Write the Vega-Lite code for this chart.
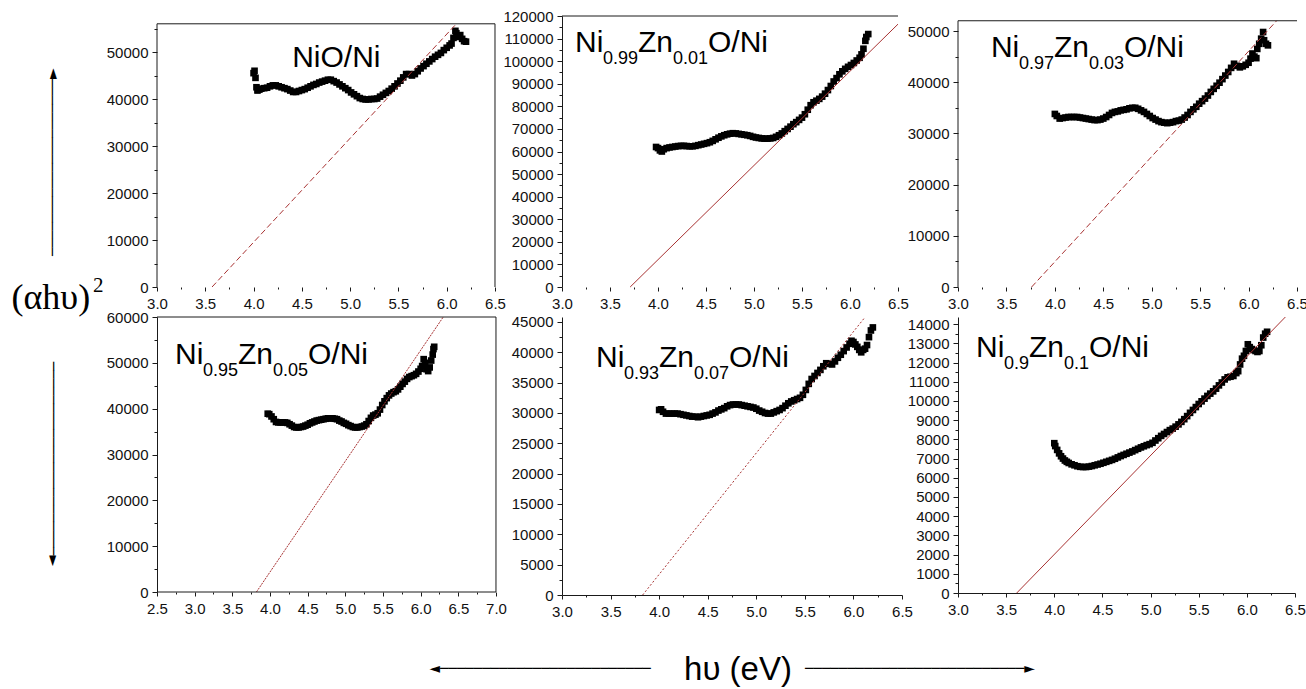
{
"$schema":"https://vega.github.io/schema/vega-lite/v6.json",
"padding":{"left":0,"top":9,"right":0,"bottom":0},
"background":"white",
"config":{
 "view":{"stroke":null,"fill":"white"},
 "axis":{"labelFont":"Liberation Sans","labelFontSize":15,"labelColor":"#111","domainColor":"#1a1a1a","tickColor":"#1a1a1a","grid":false,"labelFlush":false,"labelOverlap":false,"labelBound":false,"domainWidth":1,"tickWidth":1},
 "axisX":{"format":".1f","labelPadding":5},
 "axisY":{"format":"d","labelPadding":4},
 "text":{"font":"Liberation Sans","color":"black"}
},
"datasets":{
"p1":[{"x":4.00,"y":45500},{"x":4.01,"y":46000},{"x":4.02,"y":44500},{"x":4.03,"y":42500},{"x":4.04,"y":41800},{"x":4.06,"y":42000},{"x":4.08,"y":42200},{"x":4.11,"y":42300},{"x":4.14,"y":42400},{"x":4.17,"y":42700},{"x":4.20,"y":42900},{"x":4.23,"y":42900},{"x":4.26,"y":42700},{"x":4.29,"y":42500},{"x":4.32,"y":42300},{"x":4.35,"y":42100},{"x":4.38,"y":41800},{"x":4.41,"y":41500},{"x":4.44,"y":41500},{"x":4.47,"y":41700},{"x":4.50,"y":41900},{"x":4.53,"y":42100},{"x":4.56,"y":42400},{"x":4.59,"y":42700},{"x":4.62,"y":43000},{"x":4.65,"y":43200},{"x":4.68,"y":43500},{"x":4.71,"y":43700},{"x":4.74,"y":43900},{"x":4.77,"y":44100},{"x":4.80,"y":44100},{"x":4.83,"y":43800},{"x":4.86,"y":43500},{"x":4.89,"y":43100},{"x":4.92,"y":42700},{"x":4.95,"y":42300},{"x":4.98,"y":41900},{"x":5.01,"y":41400},{"x":5.04,"y":41000},{"x":5.07,"y":40600},{"x":5.10,"y":40200},{"x":5.13,"y":40000},{"x":5.16,"y":39900},{"x":5.19,"y":39900},{"x":5.22,"y":40000},{"x":5.25,"y":40000},{"x":5.28,"y":40100},{"x":5.31,"y":40500},{"x":5.34,"y":40900},{"x":5.37,"y":41300},{"x":5.40,"y":41700},{"x":5.43,"y":42200},{"x":5.46,"y":42700},{"x":5.49,"y":43300},{"x":5.52,"y":43900},{"x":5.55,"y":44600},{"x":5.58,"y":45300},{"x":5.61,"y":45300},{"x":5.64,"y":45000},{"x":5.67,"y":45300},{"x":5.70,"y":45900},{"x":5.73,"y":46500},{"x":5.76,"y":47000},{"x":5.79,"y":47500},{"x":5.82,"y":48000},{"x":5.85,"y":48500},{"x":5.88,"y":49000},{"x":5.91,"y":49400},{"x":5.94,"y":49800},{"x":5.97,"y":50400},{"x":6.00,"y":50900},{"x":6.03,"y":51400},{"x":6.05,"y":51800},{"x":6.07,"y":53000},{"x":6.09,"y":54500},{"x":6.10,"y":54000},{"x":6.12,"y":53200},{"x":6.14,"y":53600},{"x":6.16,"y":52800},{"x":6.18,"y":52300},{"x":6.20,"y":52200}],
"p2":[{"x":3.98,"y":62000},{"x":4.00,"y":61500},{"x":4.02,"y":60500},{"x":4.04,"y":60000},{"x":4.06,"y":61000},{"x":4.09,"y":61500},{"x":4.12,"y":61800},{"x":4.15,"y":62000},{"x":4.18,"y":62200},{"x":4.21,"y":62400},{"x":4.24,"y":62500},{"x":4.27,"y":62500},{"x":4.30,"y":62400},{"x":4.33,"y":62300},{"x":4.36,"y":62300},{"x":4.39,"y":62500},{"x":4.42,"y":62800},{"x":4.45,"y":63100},{"x":4.48,"y":63400},{"x":4.51,"y":63700},{"x":4.54,"y":64100},{"x":4.57,"y":64700},{"x":4.60,"y":65400},{"x":4.63,"y":66100},{"x":4.66,"y":66700},{"x":4.69,"y":67200},{"x":4.72,"y":67600},{"x":4.75,"y":67900},{"x":4.78,"y":68100},{"x":4.81,"y":68000},{"x":4.84,"y":67800},{"x":4.87,"y":67600},{"x":4.90,"y":67400},{"x":4.93,"y":67200},{"x":4.96,"y":66900},{"x":4.99,"y":66500},{"x":5.02,"y":66200},{"x":5.05,"y":66000},{"x":5.08,"y":65800},{"x":5.11,"y":65700},{"x":5.14,"y":65700},{"x":5.17,"y":65800},{"x":5.20,"y":66000},{"x":5.23,"y":66500},{"x":5.26,"y":67200},{"x":5.29,"y":68000},{"x":5.32,"y":69000},{"x":5.35,"y":70000},{"x":5.38,"y":71000},{"x":5.41,"y":72100},{"x":5.44,"y":73000},{"x":5.47,"y":74000},{"x":5.50,"y":75000},{"x":5.53,"y":76500},{"x":5.56,"y":78500},{"x":5.59,"y":80500},{"x":5.62,"y":81800},{"x":5.65,"y":82500},{"x":5.68,"y":83300},{"x":5.71,"y":84300},{"x":5.74,"y":85600},{"x":5.77,"y":87200},{"x":5.80,"y":89000},{"x":5.83,"y":91000},{"x":5.86,"y":92500},{"x":5.89,"y":94200},{"x":5.92,"y":95500},{"x":5.95,"y":96600},{"x":5.98,"y":97500},{"x":6.01,"y":98300},{"x":6.04,"y":99200},{"x":6.07,"y":100300},{"x":6.10,"y":101500},{"x":6.12,"y":103000},{"x":6.14,"y":105500},{"x":6.16,"y":109000},{"x":6.17,"y":110700},{"x":6.19,"y":112000}],
"p3":[{"x":4.00,"y":33800},{"x":4.02,"y":33400},{"x":4.05,"y":32900},{"x":4.08,"y":33000},{"x":4.11,"y":33100},{"x":4.14,"y":33200},{"x":4.17,"y":33200},{"x":4.20,"y":33200},{"x":4.23,"y":33200},{"x":4.26,"y":33100},{"x":4.29,"y":33000},{"x":4.32,"y":32900},{"x":4.35,"y":32800},{"x":4.38,"y":32700},{"x":4.41,"y":32600},{"x":4.44,"y":32600},{"x":4.47,"y":32700},{"x":4.50,"y":32900},{"x":4.53,"y":33200},{"x":4.56,"y":33600},{"x":4.59,"y":34000},{"x":4.62,"y":34200},{"x":4.65,"y":34300},{"x":4.68,"y":34500},{"x":4.71,"y":34600},{"x":4.74,"y":34700},{"x":4.77,"y":34900},{"x":4.80,"y":35000},{"x":4.83,"y":35000},{"x":4.86,"y":34800},{"x":4.89,"y":34500},{"x":4.92,"y":34200},{"x":4.95,"y":33800},{"x":4.98,"y":33400},{"x":5.01,"y":33000},{"x":5.04,"y":32700},{"x":5.07,"y":32400},{"x":5.10,"y":32200},{"x":5.13,"y":32100},{"x":5.16,"y":32000},{"x":5.19,"y":32100},{"x":5.22,"y":32200},{"x":5.25,"y":32400},{"x":5.28,"y":32500},{"x":5.31,"y":32700},{"x":5.34,"y":33100},{"x":5.37,"y":33600},{"x":5.40,"y":34200},{"x":5.43,"y":34700},{"x":5.46,"y":35200},{"x":5.49,"y":35800},{"x":5.52,"y":36300},{"x":5.55,"y":36800},{"x":5.58,"y":37400},{"x":5.61,"y":38100},{"x":5.64,"y":38700},{"x":5.67,"y":39300},{"x":5.70,"y":39900},{"x":5.73,"y":40600},{"x":5.76,"y":41300},{"x":5.79,"y":42000},{"x":5.82,"y":42800},{"x":5.85,"y":43600},{"x":5.88,"y":43200},{"x":5.91,"y":42900},{"x":5.94,"y":43100},{"x":5.97,"y":43400},{"x":6.00,"y":43800},{"x":6.02,"y":44600},{"x":6.04,"y":45600},{"x":6.06,"y":45000},{"x":6.08,"y":44700},{"x":6.09,"y":46500},{"x":6.11,"y":47500},{"x":6.13,"y":48500},{"x":6.15,"y":49800},{"x":6.16,"y":48200},{"x":6.18,"y":47500},{"x":6.20,"y":47200}],
"p4":[{"x":3.97,"y":38900},{"x":3.99,"y":38800},{"x":4.02,"y":38300},{"x":4.05,"y":37700},{"x":4.08,"y":37100},{"x":4.11,"y":37000},{"x":4.14,"y":37000},{"x":4.17,"y":37000},{"x":4.20,"y":37000},{"x":4.23,"y":36900},{"x":4.26,"y":36600},{"x":4.29,"y":36300},{"x":4.32,"y":36000},{"x":4.35,"y":35900},{"x":4.38,"y":35900},{"x":4.41,"y":36000},{"x":4.44,"y":36100},{"x":4.47,"y":36300},{"x":4.50,"y":36500},{"x":4.53,"y":36800},{"x":4.56,"y":37000},{"x":4.59,"y":37200},{"x":4.62,"y":37400},{"x":4.65,"y":37500},{"x":4.68,"y":37600},{"x":4.71,"y":37700},{"x":4.74,"y":37800},{"x":4.77,"y":37900},{"x":4.80,"y":37900},{"x":4.83,"y":37900},{"x":4.86,"y":37800},{"x":4.89,"y":37700},{"x":4.92,"y":37400},{"x":4.95,"y":37200},{"x":4.98,"y":36900},{"x":5.01,"y":36700},{"x":5.04,"y":36400},{"x":5.07,"y":36200},{"x":5.10,"y":36000},{"x":5.13,"y":35900},{"x":5.16,"y":35900},{"x":5.19,"y":36000},{"x":5.22,"y":36100},{"x":5.25,"y":36300},{"x":5.28,"y":36600},{"x":5.31,"y":37300},{"x":5.34,"y":38000},{"x":5.37,"y":38500},{"x":5.40,"y":38700},{"x":5.43,"y":39000},{"x":5.46,"y":39800},{"x":5.49,"y":40800},{"x":5.52,"y":41600},{"x":5.55,"y":42300},{"x":5.58,"y":42900},{"x":5.61,"y":43300},{"x":5.64,"y":43600},{"x":5.67,"y":43800},{"x":5.70,"y":44200},{"x":5.73,"y":44800},{"x":5.76,"y":45400},{"x":5.79,"y":45900},{"x":5.82,"y":46500},{"x":5.85,"y":46900},{"x":5.88,"y":47100},{"x":5.91,"y":47300},{"x":5.94,"y":47600},{"x":5.97,"y":48100},{"x":6.00,"y":48700},{"x":6.02,"y":49300},{"x":6.04,"y":50800},{"x":6.06,"y":50000},{"x":6.08,"y":48600},{"x":6.10,"y":48200},{"x":6.12,"y":49000},{"x":6.14,"y":50500},{"x":6.16,"y":51800},{"x":6.17,"y":53000},{"x":6.18,"y":53500}],
"p5":[{"x":4.00,"y":30500},{"x":4.02,"y":30600},{"x":4.04,"y":30200},{"x":4.07,"y":29900},{"x":4.10,"y":29900},{"x":4.13,"y":29900},{"x":4.16,"y":29900},{"x":4.19,"y":29900},{"x":4.22,"y":29800},{"x":4.25,"y":29700},{"x":4.28,"y":29600},{"x":4.31,"y":29500},{"x":4.34,"y":29400},{"x":4.37,"y":29400},{"x":4.40,"y":29300},{"x":4.43,"y":29400},{"x":4.46,"y":29500},{"x":4.49,"y":29600},{"x":4.52,"y":29700},{"x":4.55,"y":29900},{"x":4.58,"y":30100},{"x":4.61,"y":30400},{"x":4.64,"y":30600},{"x":4.67,"y":30800},{"x":4.70,"y":31100},{"x":4.73,"y":31300},{"x":4.76,"y":31400},{"x":4.79,"y":31400},{"x":4.82,"y":31400},{"x":4.85,"y":31300},{"x":4.88,"y":31200},{"x":4.91,"y":31100},{"x":4.94,"y":31000},{"x":4.97,"y":30900},{"x":5.00,"y":30700},{"x":5.03,"y":30400},{"x":5.06,"y":30200},{"x":5.09,"y":30000},{"x":5.12,"y":29900},{"x":5.15,"y":29900},{"x":5.18,"y":30100},{"x":5.21,"y":30300},{"x":5.24,"y":30500},{"x":5.27,"y":30800},{"x":5.30,"y":31200},{"x":5.33,"y":31600},{"x":5.36,"y":31900},{"x":5.39,"y":32100},{"x":5.42,"y":32300},{"x":5.45,"y":32500},{"x":5.48,"y":33000},{"x":5.51,"y":33800},{"x":5.54,"y":34800},{"x":5.57,"y":35600},{"x":5.60,"y":36100},{"x":5.63,"y":36600},{"x":5.66,"y":37100},{"x":5.69,"y":37700},{"x":5.72,"y":38200},{"x":5.75,"y":38100},{"x":5.78,"y":38000},{"x":5.81,"y":38500},{"x":5.84,"y":39100},{"x":5.87,"y":39600},{"x":5.90,"y":40200},{"x":5.93,"y":40800},{"x":5.96,"y":41400},{"x":5.98,"y":41900},{"x":6.00,"y":41700},{"x":6.02,"y":41300},{"x":6.04,"y":40900},{"x":6.06,"y":40400},{"x":6.08,"y":40000},{"x":6.10,"y":40400},{"x":6.12,"y":40600},{"x":6.14,"y":41200},{"x":6.16,"y":42500},{"x":6.18,"y":43600},{"x":6.20,"y":44100}],
"p6":[{"x":4.00,"y":7800},{"x":4.01,"y":7650},{"x":4.03,"y":7450},{"x":4.05,"y":7270},{"x":4.07,"y":7120},{"x":4.09,"y":7000},{"x":4.11,"y":6900},{"x":4.13,"y":6830},{"x":4.15,"y":6770},{"x":4.18,"y":6700},{"x":4.21,"y":6650},{"x":4.24,"y":6600},{"x":4.27,"y":6570},{"x":4.30,"y":6560},{"x":4.33,"y":6560},{"x":4.36,"y":6580},{"x":4.39,"y":6610},{"x":4.42,"y":6650},{"x":4.45,"y":6690},{"x":4.48,"y":6730},{"x":4.51,"y":6780},{"x":4.54,"y":6830},{"x":4.57,"y":6880},{"x":4.60,"y":6930},{"x":4.63,"y":6990},{"x":4.66,"y":7060},{"x":4.69,"y":7130},{"x":4.72,"y":7190},{"x":4.75,"y":7250},{"x":4.78,"y":7310},{"x":4.81,"y":7370},{"x":4.84,"y":7440},{"x":4.87,"y":7510},{"x":4.90,"y":7580},{"x":4.93,"y":7640},{"x":4.96,"y":7700},{"x":4.99,"y":7750},{"x":5.02,"y":7820},{"x":5.05,"y":7940},{"x":5.08,"y":8060},{"x":5.11,"y":8180},{"x":5.14,"y":8280},{"x":5.17,"y":8380},{"x":5.20,"y":8480},{"x":5.23,"y":8560},{"x":5.26,"y":8660},{"x":5.29,"y":8780},{"x":5.32,"y":8910},{"x":5.35,"y":9050},{"x":5.38,"y":9210},{"x":5.41,"y":9380},{"x":5.44,"y":9530},{"x":5.47,"y":9680},{"x":5.50,"y":9840},{"x":5.53,"y":9980},{"x":5.56,"y":10120},{"x":5.59,"y":10260},{"x":5.62,"y":10380},{"x":5.65,"y":10500},{"x":5.68,"y":10640},{"x":5.71,"y":10810},{"x":5.74,"y":10960},{"x":5.77,"y":11120},{"x":5.80,"y":11230},{"x":5.83,"y":11260},{"x":5.86,"y":11300},{"x":5.89,"y":11450},{"x":5.91,"y":11550},{"x":5.93,"y":11900},{"x":5.95,"y":12200},{"x":5.97,"y":12350},{"x":5.99,"y":12600},{"x":6.01,"y":12950},{"x":6.03,"y":12800},{"x":6.05,"y":12700},{"x":6.07,"y":12650},{"x":6.09,"y":12600},{"x":6.11,"y":12550},{"x":6.13,"y":12600},{"x":6.15,"y":12900},{"x":6.17,"y":13300},{"x":6.19,"y":13500},{"x":6.21,"y":13600}],
"l1":[{"x":3.57,"y":0},{"x":6.10,"y":56000}],
"l2":[{"x":3.71,"y":0},{"x":6.5,"y":116400}],
"l3":[{"x":3.76,"y":0},{"x":6.29,"y":52000}],
"l4":[{"x":3.82,"y":0},{"x":6.30,"y":60000}],
"l5":[{"x":3.83,"y":0},{"x":6.12,"y":45800}],
"l6":[{"x":3.61,"y":0},{"x":6.40,"y":14370}]
},
"concat":[
 {"width":101,"height":271,"view":{"stroke":null,"fill":"white"},"data":{"values":[{}]},
  "layer":[
   {"mark":{"type":"text","text":"─────────────────────►","font":"DejaVu Sans","fontSize":14,"angle":270,"align":"center","baseline":"middle","dx":-10.5,"dy":2.5},"encoding":{}},
   {"mark":{"type":"text","text":"(αhυ)","font":"Liberation Serif","fontSize":36,"align":"left","baseline":"alphabetic","dx":-39,"dy":157.5},"encoding":{}},
   {"mark":{"type":"text","text":"2","font":"Liberation Serif","fontSize":21,"align":"left","baseline":"alphabetic","dx":42.5,"dy":140.5},"encoding":{}}
  ]},
 {"width":349,"height":271,
  "layer":[
   {"data":{"name":"p1"},"mark":{"type":"square","size":44,"color":"black","opacity":1},
    "encoding":{
     "x":{"field":"x","type":"quantitative","scale":{"domain":[3.0,6.614],"nice":false,"zero":false},
      "axis":{"title":null,"tickCount":100,"values":[3,3.25,3.5,3.75,4,4.25,4.5,4.75,5,5.25,5.5,5.75,6,6.25,6.5],"labelExpr":"datum.value*2 === round(datum.value*2) ? datum.label : ''","tickSize":{"condition":{"test":"datum.value*2 === round(datum.value*2)","value":4},"value":2},"domain":false}},
     "y":{"field":"y","type":"quantitative","scale":{"domain":[0,57660],"nice":false},
      "axis":{"title":null,"tickCount":100,"values":[0,5000,10000,15000,20000,25000,30000,35000,40000,45000,50000,55000],"labelExpr":"datum.value % 10000 === 0 ? datum.label : ''","tickSize":{"condition":{"test":"datum.value % 10000 === 0","value":5},"value":3},"domain":false}}}},
   {"data":{"name":"l1"},"mark":{"type":"line","color":"#a83232","strokeWidth":1,"strokeDash":[6,3]},
    "encoding":{"x":{"field":"x","type":"quantitative"},"y":{"field":"y","type":"quantitative"}}},
   {"data":{"values":[{}]},"mark":{"type":"rule","color":"#1a1a1a","strokeWidth":1},"encoding":{"x":{"datum":3.0},"x2":{"datum":6.5},"y":{"datum":56000}}},
   {"data":{"values":[{}]},"mark":{"type":"rule","color":"#1a1a1a","strokeWidth":1},"encoding":{"x":{"datum":6.5},"y":{"datum":0},"y2":{"datum":56000}}},
   {"data":{"values":[{}]},"mark":{"type":"rule","color":"#1a1a1a","strokeWidth":1},"encoding":{"x":{"datum":3.0},"y":{"datum":0},"y2":{"datum":56000}}},
   {"data":{"values":[{}]},"mark":{"type":"text","text":"NiO/Ni","fontSize":30,"align":"left","baseline":"alphabetic"},"encoding":{"x":{"datum":4.40},"y":{"datum":46800}}}
  ]},
 {"width":336,"height":271,
  "layer":[
   {"data":{"name":"p2"},"mark":{"type":"square","size":44,"color":"black","opacity":1},
    "encoding":{
     "x":{"field":"x","type":"quantitative","scale":{"domain":[3.0,6.5],"nice":false,"zero":false},
      "axis":{"title":null,"tickCount":100,"values":[3,3.25,3.5,3.75,4,4.25,4.5,4.75,5,5.25,5.5,5.75,6,6.25,6.5],"labelExpr":"datum.value*2 === round(datum.value*2) ? datum.label : ''","tickSize":{"condition":{"test":"datum.value*2 === round(datum.value*2)","value":4},"value":2},"domain":false}},
     "y":{"field":"y","type":"quantitative","scale":{"domain":[0,120000],"nice":false},
      "axis":{"title":null,"tickCount":100,"values":[0,5000,10000,15000,20000,25000,30000,35000,40000,45000,50000,55000,60000,65000,70000,75000,80000,85000,90000,95000,100000,105000,110000,115000,120000],"labelExpr":"datum.value % 10000 === 0 ? datum.label : ''","tickSize":{"condition":{"test":"datum.value % 10000 === 0","value":5},"value":3},"domain":true}}}},
   {"data":{"name":"l2"},"mark":{"type":"line","color":"#a83232","strokeWidth":1},
    "encoding":{"x":{"field":"x","type":"quantitative"},"y":{"field":"y","type":"quantitative"}}},
   {"data":{"values":[{}]},"mark":{"type":"rule","color":"#1a1a1a","strokeWidth":1},"encoding":{"x":{"datum":3.0},"x2":{"datum":6.5},"y":{"datum":120000}}},
   {"data":{"values":[{}]},"mark":{"type":"text","text":"Ni","fontSize":30,"align":"left","baseline":"alphabetic"},"encoding":{"x":{"datum":3.135},"y":{"datum":104000}}},
   {"data":{"values":[{}]},"mark":{"type":"text","text":"0.99","fontSize":18,"align":"left","baseline":"alphabetic","dx":28,"dy":12},"encoding":{"x":{"datum":3.135},"y":{"datum":104000}}},
   {"data":{"values":[{}]},"mark":{"type":"text","text":"Zn","fontSize":30,"align":"left","baseline":"alphabetic","dx":63},"encoding":{"x":{"datum":3.135},"y":{"datum":104000}}},
   {"data":{"values":[{}]},"mark":{"type":"text","text":"0.01","fontSize":18,"align":"left","baseline":"alphabetic","dx":98,"dy":12},"encoding":{"x":{"datum":3.135},"y":{"datum":104000}}},
   {"data":{"values":[{}]},"mark":{"type":"text","text":"O/Ni","fontSize":30,"align":"left","baseline":"alphabetic","dx":133},"encoding":{"x":{"datum":3.135},"y":{"datum":104000}}}
  ]},
 {"width":339,"height":271,
  "layer":[
   {"data":{"name":"p3"},"mark":{"type":"square","size":44,"color":"black","opacity":1},
    "encoding":{
     "x":{"field":"x","type":"quantitative","scale":{"domain":[3.0,6.5],"nice":false,"zero":false},
      "axis":{"title":null,"tickCount":100,"values":[3,3.25,3.5,3.75,4,4.25,4.5,4.75,5,5.25,5.5,5.75,6,6.25,6.5],"labelExpr":"datum.value*2 === round(datum.value*2) ? datum.label : ''","tickSize":{"condition":{"test":"datum.value*2 === round(datum.value*2)","value":4},"value":2},"domain":false}},
     "y":{"field":"y","type":"quantitative","scale":{"domain":[0,52930],"nice":false},
      "axis":{"title":null,"tickCount":100,"values":[0,5000,10000,15000,20000,25000,30000,35000,40000,45000,50000],"labelExpr":"datum.value % 10000 === 0 ? datum.label : ''","tickSize":{"condition":{"test":"datum.value % 10000 === 0","value":5},"value":3},"domain":false}}}},
   {"data":{"name":"l3"},"mark":{"type":"line","color":"#a83232","strokeWidth":1,"strokeDash":[6,3]},
    "encoding":{"x":{"field":"x","type":"quantitative"},"y":{"field":"y","type":"quantitative"}}},
   {"data":{"values":[{}]},"mark":{"type":"rule","color":"#1a1a1a","strokeWidth":1},"encoding":{"x":{"datum":3.0},"x2":{"datum":6.5},"y":{"datum":52000}}},
   {"data":{"values":[{}]},"mark":{"type":"rule","color":"#1a1a1a","strokeWidth":1},"encoding":{"x":{"datum":3.0},"y":{"datum":0},"y2":{"datum":52000}}},
   {"data":{"values":[{}]},"mark":{"type":"text","text":"Ni","fontSize":30,"align":"left","baseline":"alphabetic"},"encoding":{"x":{"datum":3.34},"y":{"datum":44900}}},
   {"data":{"values":[{}]},"mark":{"type":"text","text":"0.97","fontSize":18,"align":"left","baseline":"alphabetic","dx":28,"dy":12},"encoding":{"x":{"datum":3.34},"y":{"datum":44900}}},
   {"data":{"values":[{}]},"mark":{"type":"text","text":"Zn","fontSize":30,"align":"left","baseline":"alphabetic","dx":63},"encoding":{"x":{"datum":3.34},"y":{"datum":44900}}},
   {"data":{"values":[{}]},"mark":{"type":"text","text":"0.03","fontSize":18,"align":"left","baseline":"alphabetic","dx":98,"dy":12},"encoding":{"x":{"datum":3.34},"y":{"datum":44900}}},
   {"data":{"values":[{}]},"mark":{"type":"text","text":"O/Ni","fontSize":30,"align":"left","baseline":"alphabetic","dx":133},"encoding":{"x":{"datum":3.34},"y":{"datum":44900}}}
  ]},
 {"width":101,"height":278,"view":{"stroke":null,"fill":"white"},"data":{"values":[{}]},
  "layer":[
   {"mark":{"type":"text","text":"───────────────────────►","font":"DejaVu Sans","fontSize":14,"angle":90,"align":"center","baseline":"middle","dx":8,"dy":-2.5},"encoding":{}}
  ]},
 {"width":345,"height":275,
  "layer":[
   {"data":{"name":"p4"},"mark":{"type":"square","size":44,"color":"black","opacity":1},
    "encoding":{
     "x":{"field":"x","type":"quantitative","scale":{"domain":[2.5,7.08],"nice":false,"zero":false},
      "axis":{"title":null,"tickCount":100,"values":[2.5,2.75,3,3.25,3.5,3.75,4,4.25,4.5,4.75,5,5.25,5.5,5.75,6,6.25,6.5,6.75,7],"labelExpr":"datum.value*2 === round(datum.value*2) ? datum.label : ''","tickSize":{"condition":{"test":"datum.value*2 === round(datum.value*2)","value":4},"value":2},"domain":false}},
     "y":{"field":"y","type":"quantitative","scale":{"domain":[0,60000],"nice":false},
      "axis":{"title":null,"tickCount":100,"values":[0,5000,10000,15000,20000,25000,30000,35000,40000,45000,50000,55000,60000],"labelExpr":"datum.value % 10000 === 0 ? datum.label : ''","tickSize":{"condition":{"test":"datum.value % 10000 === 0","value":5},"value":3},"domain":true}}}},
   {"data":{"name":"l4"},"mark":{"type":"line","color":"#a83232","strokeWidth":1,"strokeDash":[2,1]},
    "encoding":{"x":{"field":"x","type":"quantitative"},"y":{"field":"y","type":"quantitative"}}},
   {"data":{"values":[{}]},"mark":{"type":"rule","color":"#1a1a1a","strokeWidth":1},"encoding":{"x":{"datum":2.5},"x2":{"datum":7.0},"y":{"datum":60000}}},
   {"data":{"values":[{}]},"mark":{"type":"rule","color":"#1a1a1a","strokeWidth":1},"encoding":{"x":{"datum":2.5},"x2":{"datum":7.0},"y":{"datum":0}}},
   {"data":{"values":[{}]},"mark":{"type":"rule","color":"#1a1a1a","strokeWidth":1},"encoding":{"x":{"datum":7.0},"y":{"datum":0},"y2":{"datum":60000}}},
   {"data":{"values":[{}]},"mark":{"type":"text","text":"Ni","fontSize":30,"align":"left","baseline":"alphabetic"},"encoding":{"x":{"datum":2.739},"y":{"datum":49750}}},
   {"data":{"values":[{}]},"mark":{"type":"text","text":"0.95","fontSize":18,"align":"left","baseline":"alphabetic","dx":28,"dy":12},"encoding":{"x":{"datum":2.739},"y":{"datum":49750}}},
   {"data":{"values":[{}]},"mark":{"type":"text","text":"Zn","fontSize":30,"align":"left","baseline":"alphabetic","dx":63},"encoding":{"x":{"datum":2.739},"y":{"datum":49750}}},
   {"data":{"values":[{}]},"mark":{"type":"text","text":"0.05","fontSize":18,"align":"left","baseline":"alphabetic","dx":98,"dy":12},"encoding":{"x":{"datum":2.739},"y":{"datum":49750}}},
   {"data":{"values":[{}]},"mark":{"type":"text","text":"O/Ni","fontSize":30,"align":"left","baseline":"alphabetic","dx":133},"encoding":{"x":{"datum":2.739},"y":{"datum":49750}}}
  ]},
 {"width":340,"height":278,
  "layer":[
   {"data":{"name":"p5"},"mark":{"type":"square","size":44,"color":"black","opacity":1},
    "encoding":{
     "x":{"field":"x","type":"quantitative","scale":{"domain":[3.0,6.5],"nice":false,"zero":false},
      "axis":{"title":null,"tickCount":100,"values":[3,3.25,3.5,3.75,4,4.25,4.5,4.75,5,5.25,5.5,5.75,6,6.25,6.5],"labelExpr":"datum.value*2 === round(datum.value*2) ? datum.label : ''","tickSize":{"condition":{"test":"datum.value*2 === round(datum.value*2)","value":4},"value":2},"domain":true}},
     "y":{"field":"y","type":"quantitative","scale":{"domain":[0,45820],"nice":false},
      "axis":{"title":null,"tickCount":100,"values":[0,2500,5000,7500,10000,12500,15000,17500,20000,22500,25000,27500,30000,32500,35000,37500,40000,42500,45000],"labelExpr":"datum.value % 5000 === 0 ? datum.label : ''","tickSize":{"condition":{"test":"datum.value % 5000 === 0","value":5},"value":3},"domain":true}}}},
   {"data":{"name":"l5"},"mark":{"type":"line","color":"#a83232","strokeWidth":1,"strokeDash":[2,2]},
    "encoding":{"x":{"field":"x","type":"quantitative"},"y":{"field":"y","type":"quantitative"}}},
   {"data":{"values":[{}]},"mark":{"type":"text","text":"Ni","fontSize":30,"align":"left","baseline":"alphabetic"},"encoding":{"x":{"datum":3.35},"y":{"datum":37580}}},
   {"data":{"values":[{}]},"mark":{"type":"text","text":"0.93","fontSize":18,"align":"left","baseline":"alphabetic","dx":28,"dy":12},"encoding":{"x":{"datum":3.35},"y":{"datum":37580}}},
   {"data":{"values":[{}]},"mark":{"type":"text","text":"Zn","fontSize":30,"align":"left","baseline":"alphabetic","dx":63},"encoding":{"x":{"datum":3.35},"y":{"datum":37580}}},
   {"data":{"values":[{}]},"mark":{"type":"text","text":"0.07","fontSize":18,"align":"left","baseline":"alphabetic","dx":98,"dy":12},"encoding":{"x":{"datum":3.35},"y":{"datum":37580}}},
   {"data":{"values":[{}]},"mark":{"type":"text","text":"O/Ni","fontSize":30,"align":"left","baseline":"alphabetic","dx":133},"encoding":{"x":{"datum":3.35},"y":{"datum":37580}}},
   {"data":{"values":[{}]},"mark":{"type":"text","text":"◄─────────────────────────","font":"DejaVu Sans","fontSize":14,"align":"center","baseline":"middle","dx":-192,"dy":213},"encoding":{}},
   {"data":{"values":[{}]},"mark":{"type":"text","text":"hυ (eV)","font":"Liberation Sans","fontSize":33,"align":"center","baseline":"alphabetic","dx":6,"dy":224},"encoding":{}},
   {"data":{"values":[{}]},"mark":{"type":"text","text":"──────────────────────────►","font":"DejaVu Sans","fontSize":14,"align":"center","baseline":"middle","dx":188,"dy":213},"encoding":{}}
  ]},
 {"width":337,"height":276,
  "layer":[
   {"data":{"name":"p6"},"mark":{"type":"square","size":44,"color":"black","opacity":1},
    "encoding":{
     "x":{"field":"x","type":"quantitative","scale":{"domain":[3.0,6.5],"nice":false,"zero":false},
      "axis":{"title":null,"tickCount":100,"values":[3,3.25,3.5,3.75,4,4.25,4.5,4.75,5,5.25,5.5,5.75,6,6.25,6.5],"labelExpr":"datum.value*2 === round(datum.value*2) ? datum.label : ''","tickSize":{"condition":{"test":"datum.value*2 === round(datum.value*2)","value":4},"value":2},"domain":true}},
     "y":{"field":"y","type":"quantitative","scale":{"domain":[0,14370],"nice":false},
      "axis":{"title":null,"tickCount":100,"values":[0,500,1000,1500,2000,2500,3000,3500,4000,4500,5000,5500,6000,6500,7000,7500,8000,8500,9000,9500,10000,10500,11000,11500,12000,12500,13000,13500,14000],"labelExpr":"datum.value % 1000 === 0 ? datum.label : ''","tickSize":{"condition":{"test":"datum.value % 1000 === 0","value":5},"value":3},"domain":true}}}},
   {"data":{"name":"l6"},"mark":{"type":"line","color":"#a83232","strokeWidth":1},
    "encoding":{"x":{"field":"x","type":"quantitative"},"y":{"field":"y","type":"quantitative"}}},
   {"data":{"values":[{}]},"mark":{"type":"text","text":"Ni","fontSize":30,"align":"left","baseline":"alphabetic"},"encoding":{"x":{"datum":3.187},"y":{"datum":12285}}},
   {"data":{"values":[{}]},"mark":{"type":"text","text":"0.9","fontSize":18,"align":"left","baseline":"alphabetic","dx":28,"dy":12},"encoding":{"x":{"datum":3.187},"y":{"datum":12285}}},
   {"data":{"values":[{}]},"mark":{"type":"text","text":"Zn","fontSize":30,"align":"left","baseline":"alphabetic","dx":53},"encoding":{"x":{"datum":3.187},"y":{"datum":12285}}},
   {"data":{"values":[{}]},"mark":{"type":"text","text":"0.1","fontSize":18,"align":"left","baseline":"alphabetic","dx":88,"dy":12},"encoding":{"x":{"datum":3.187},"y":{"datum":12285}}},
   {"data":{"values":[{}]},"mark":{"type":"text","text":"O/Ni","fontSize":30,"align":"left","baseline":"alphabetic","dx":113},"encoding":{"x":{"datum":3.187},"y":{"datum":12285}}}
  ]}
],
"columns":4,
"spacing":{"row":30,"column":56},
"align":"none",
"bounds":"flush"
}
